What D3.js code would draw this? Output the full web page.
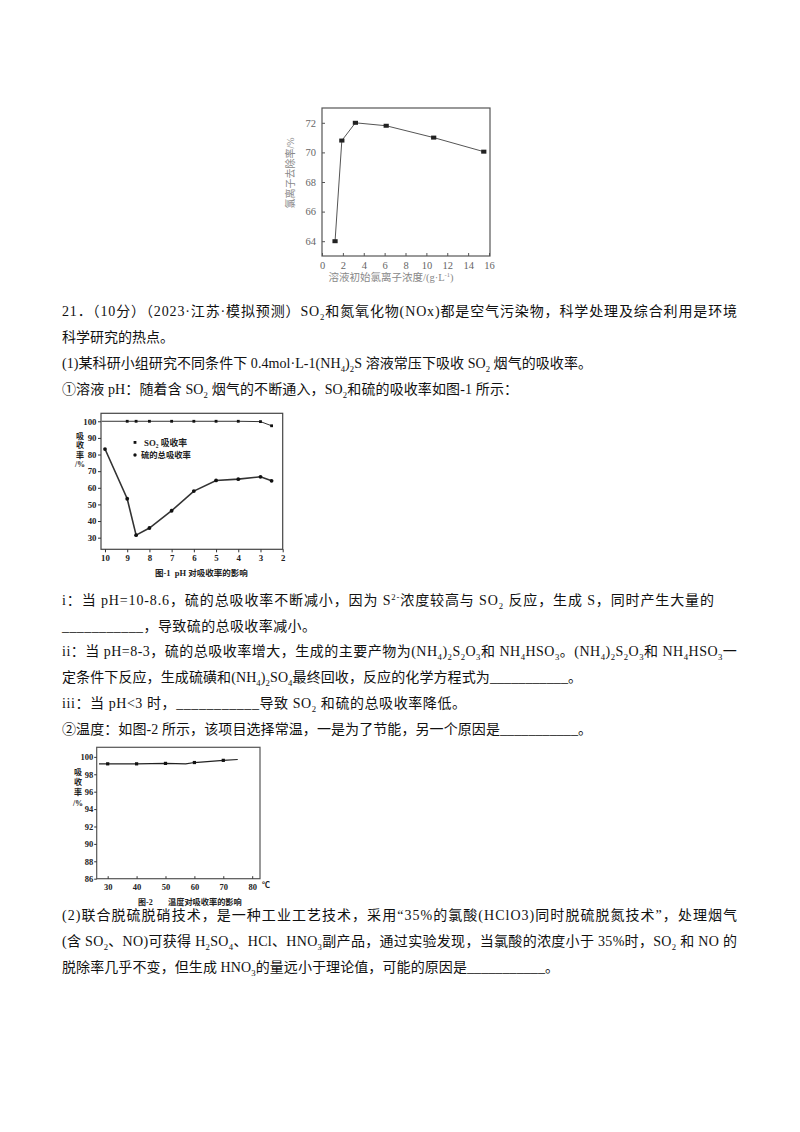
<!DOCTYPE html>
<html><head><meta charset="utf-8">
<script src="https://cdn.jsdelivr.net/npm/d3@7"></script>
<style>body{margin:0;background:#fff} svg{display:block}</style>
</head><body><svg id="page" width="800" height="1132"></svg>
<script>
// ---------- DATA ----------
// Chart A: chloride removal vs initial chloride concentration
const clConc = [1.25, 1.9, 3.2, 6.15, 10.7, 15.5];
const clRemoval = [64.0, 70.8, 72.0, 71.8, 71.0, 70.05];
const clXTicks = [0, 2, 4, 6, 8, 10, 12, 14, 16];
const clYTicks = [64, 66, 68, 70, 72];

// Chart B (图-1): absorption vs pH
const so2Ph = [10.15, 9, 8.6, 8, 7, 6, 5, 4, 3, 2.5];
const so2Rate = [100, 100, 100, 100, 100, 100, 100, 100, 99.8, 97.3];
const sulfurPh = [10, 9, 8.6, 8, 7, 6, 5, 4, 3, 2.5];
const sulfurRate = [83.3, 53.4, 31.5, 35.8, 46.2, 58.0, 64.4, 65.2, 66.6, 64.2];
const phTicks = [10, 9, 8, 7, 6, 5, 4, 3, 2];
const rateTicks = [30, 40, 50, 60, 70, 80, 90, 100];

// Chart C (图-2): absorption vs temperature
const tempLine = [27, 30, 40, 50, 57, 60, 70, 75];
const tempLineRate = [99.2, 99.2, 99.2, 99.25, 99.2, 99.35, 99.6, 99.7];
const tempPts = [30, 40, 50, 60, 70];
const tempPtsRate = [99.2, 99.2, 99.25, 99.35, 99.6];
const tempXTicks = [30, 40, 50, 60, 70, 80];
const tempYTicks = [86, 88, 90, 92, 94, 96, 98, 100];

// Body text lines (y = line centre, e = right end when stretched)
const bodyLines = [
  {y:311, e:737, t:"21．（10分）（2023·江苏·模拟预测）SO{_2}和氮氧化物(NOx)都是空气污染物，科学处理及综合利用是环境"},
  {y:337, t:"科学研究的热点。"},
  {y:363, e:592, t:"(1)某科研小组研究不同条件下 0.4mol·L-1(NH{_4}){_2}S 溶液常压下吸收 SO{_2} 烟气的吸收率。"},
  {y:389, e:518, t:"①溶液 pH：随着含 SO{_2} 烟气的不断通入，SO{_2}和硫的吸收率如图-1 所示："},
  {y:600, e:714, t:"i：当 pH=10-8.6，硫的总吸收率不断减小，因为 S{^2-}浓度较高与 SO{_2} 反应，生成 S，同时产生大量的"},
  {y:626, e:316, t:"___________，导致硫的总吸收率减小。"},
  {y:651, e:737, t:"ii：当 pH=8-3，硫的总吸收率增大，生成的主要产物为(NH{_4}){_2}S{_2}O{_3}和 NH{_4}HSO{_3}。(NH{_4}){_2}S{_2}O{_3}和 NH{_4}HSO{_3}一"},
  {y:677, e:582, t:"定条件下反应，生成硫磺和(NH{_4}){_2}SO{_4}最终回收，反应的化学方程式为___________。"},
  {y:703, e:466, t:"iii：当 pH<3 时，___________导致 SO{_2} 和硫的总吸收率降低。"},
  {y:729, e:592, t:"②温度：如图-2 所示，该项目选择常温，一是为了节能，另一个原因是___________。"},
  {y:915, e:737, t:"(2)联合脱硫脱硝技术，是一种工业工艺技术，采用“35%的氯酸(HClO3)同时脱硫脱氮技术”，处理烟气"},
  {y:941, e:737, t:"(含 SO{_2}、NO)可获得 H{_2}SO{_4}、HCl、HNO{_3}副产品，通过实验发现，当氯酸的浓度小于 35%时，SO{_2} 和 NO 的"},
  {y:967, e:559, t:"脱除率几乎不变，但生成 HNO{_3}的量远小于理论值，可能的原因是___________。"}
];

// ---------- HELPERS ----------
const svg = d3.select("#page");
const SERIF = "'Liberation Serif','Noto Sans CJK SC',serif";

function rich(sel, str, size) {
  const parts = str.split(/(\{[_^][^}]*\})/).filter(s => s.length);
  let pending = 0;
  parts.forEach(p => {
    const m = p.match(/^\{([_^])([^}]*)\}$/);
    if (m) {
      const d = m[1] === "_" ? size * 0.28 : -size * 0.38;
      sel.append("tspan").attr("dy", pending + d).attr("font-size", size * 0.62).text(m[2]);
      pending = -d;
    } else {
      const ts = sel.append("tspan").attr("font-size", size).text(p);
      if (pending) ts.attr("dy", pending);
      pending = 0;
    }
  });
  return sel;
}

// ---------- BODY TEXT ----------
const LEFT = 62;
bodyLines.forEach(L => {
  const t = svg.append("text").attr("x", LEFT).attr("y", L.y + 5)
    .attr("font-family", SERIF).attr("font-size", 14).attr("fill", "#111");
  rich(t, L.t, 14);
  if (L.e) {
    const node = t.node();
    const w = node.getComputedTextLength();
    const n = node.getNumberOfChars();
    const ls = (L.e - LEFT - w) / (n - 1);
    t.attr("letter-spacing", ls);
  }
});

// ---------- CHART A ----------
(function(){
  const x = d3.scaleLinear().domain([0, 16]).range([322, 489]);
  const y = d3.scaleLinear().domain([63, 73]).range([256, 108]);
  const g = svg.append("g");
  const col = "#555";
  g.append("rect").attr("x", 322).attr("y", 108).attr("width", 168).attr("height", 148)
    .attr("fill", "none").attr("stroke", col).attr("stroke-width", 1.2);
  const xa = g.append("g").attr("transform", "translate(0,256)")
    .call(d3.axisBottom(x).tickValues(clXTicks).tickSizeInner(-3).tickSizeOuter(0).tickPadding(6));
  const ya = g.append("g").attr("transform", "translate(322,0)")
    .call(d3.axisLeft(y).tickValues(clYTicks).tickSizeInner(-3).tickSizeOuter(0).tickPadding(6));
  [xa, ya].forEach(a => {
    a.select(".domain").remove();
    a.selectAll("line").attr("stroke", col);
    a.selectAll("text").attr("font-family", SERIF).attr("font-size", 10.5).attr("fill", "#666");
  });
  const line = d3.line().x((d,i) => x(clConc[i])).y(d => y(d));
  g.append("path").datum(clRemoval).attr("d", line).attr("fill", "none")
    .attr("stroke", "#555").attr("stroke-width", 1);
  g.selectAll("rect.m").data(clRemoval).enter().append("rect").attr("class", "m")
    .attr("x", (d,i) => x(clConc[i]) - 2.6).attr("y", d => y(d) - 2)
    .attr("width", 5.2).attr("height", 4).attr("fill", "#222");
  g.append("text").attr("transform", "translate(294,173) rotate(-90)")
    .attr("text-anchor", "middle").attr("font-family", SERIF).attr("font-size", 10)
    .attr("fill", "#888").text("氯离子去除率/%");
  const xl = g.append("text").attr("x", 391).attr("y", 281).attr("text-anchor", "middle")
    .attr("font-family", SERIF).attr("fill", "#888");
  rich(xl, "溶液初始氯离子浓度/(g·L{^-1})", 10.5);
})();

// ---------- CHART B (图-1) ----------
(function(){
  const x = d3.scaleLinear().domain([10.18, 2]).range([101, 282.7]);
  const y = d3.scaleLinear().domain([23, 104.8]).range([549.3, 413.3]);
  const g = svg.append("g");
  const col = "#333";
  g.append("rect").attr("x", 101).attr("y", 413.3).attr("width", 181.7).attr("height", 136)
    .attr("fill", "none").attr("stroke", "#444").attr("stroke-width", 1.2);
  const xa = g.append("g").attr("transform", "translate(0,549.3)")
    .call(d3.axisBottom(x).tickValues(phTicks).tickSize(3).tickSizeOuter(0).tickPadding(2));
  const ya = g.append("g").attr("transform", "translate(101,0)")
    .call(d3.axisLeft(y).tickValues(rateTicks).tickSize(3).tickSizeOuter(0).tickPadding(1.5));
  [xa, ya].forEach(a => {
    a.select(".domain").remove();
    a.selectAll("line").attr("stroke", col).attr("stroke-width", 1);
    a.selectAll("text").attr("font-family", SERIF).attr("font-weight", "bold")
      .attr("font-size", 8.8).attr("fill", "#222");
  });
  const so2Line = d3.line().x((d,i) => x(so2Ph[i])).y(d => y(d));
  g.append("path").datum(so2Rate).attr("d", so2Line).attr("fill", "none")
    .attr("stroke", "#333").attr("stroke-width", 1);
  const sLine = d3.line().x((d,i) => x(sulfurPh[i])).y(d => y(d));
  g.append("path").datum(sulfurRate).attr("d", sLine).attr("fill", "none")
    .attr("stroke", "#333").attr("stroke-width", 1.6);
  g.selectAll("rect.so2").data(so2Rate.slice(1)).enter().append("rect").attr("class", "so2")
    .attr("x", (d,i) => x(so2Ph[i+1]) - 1.4).attr("y", d => y(d) - 1.4)
    .attr("width", 2.8).attr("height", 2.8).attr("fill", "#111");
  g.selectAll("circle.s").data(sulfurRate).enter().append("circle").attr("class", "s")
    .attr("cx", (d,i) => x(sulfurPh[i])).attr("cy", d => y(d)).attr("r", 1.9).attr("fill", "#111");
  // legend
  g.append("rect").attr("x", 133.6).attr("y", 441).attr("width", 2.8).attr("height", 2.8).attr("fill", "#111");
  const l1 = g.append("text").attr("x", 144).attr("y", 445.5).attr("font-family", SERIF)
    .attr("font-weight", "bold").attr("fill", "#222");
  rich(l1, "SO{_2} 吸收率", 8.8);
  g.append("circle").attr("cx", 135).attr("cy", 455).attr("r", 1.7).attr("fill", "#111");
  g.append("text").attr("x", 141).attr("y", 458).attr("font-family", SERIF)
    .attr("font-weight", "bold").attr("font-size", 8.3).attr("fill", "#222").text("硫的总吸收率");
  // y label stacked
  const ylab = ["吸", "收", "率", "/%"], ylabY = [435.5, 445, 454.5, 463.5];
  ylab.forEach((c, i) => g.append("text").attr("x", 80).attr("y", ylabY[i] + 3)
    .attr("text-anchor", "middle").attr("font-family", SERIF).attr("font-weight", "bold")
    .attr("font-size", 8).attr("fill", "#222").text(c));
  g.append("text").attr("x", 155).attr("y", 575.5).attr("font-family", SERIF)
    .attr("font-weight", "bold").attr("font-size", 8.5).attr("fill", "#222")
    .attr("xml:space", "preserve").text("图-1  pH 对吸收率的影响");
})();

// ---------- CHART C (图-2) ----------
(function(){
  const x = d3.scaleLinear().domain([26.2, 82.7]).range([96.7, 260]);
  const y = d3.scaleLinear().domain([86, 101.1]).range([878.7, 747.3]);
  const g = svg.append("g");
  const col = "#333";
  g.append("rect").attr("x", 96.7).attr("y", 747.3).attr("width", 163.3).attr("height", 131.4)
    .attr("fill", "none").attr("stroke", "#555").attr("stroke-width", 1.2);
  const xa = g.append("g").attr("transform", "translate(0,878.7)")
    .call(d3.axisBottom(x).tickValues(tempXTicks).tickSizeInner(-2.5).tickSizeOuter(0).tickPadding(5));
  const ya = g.append("g").attr("transform", "translate(96.7,0)")
    .call(d3.axisLeft(y).tickValues(tempYTicks).tickSize(2.5).tickSizeOuter(0).tickPadding(1));
  [xa, ya].forEach(a => {
    a.select(".domain").remove();
    a.selectAll("line").attr("stroke", col).attr("stroke-width", 1);
    a.selectAll("text").attr("font-family", SERIF).attr("font-weight", "bold")
      .attr("font-size", 8.5).attr("fill", "#222");
  });
  g.append("text").attr("x", 266).attr("y", 888).attr("text-anchor", "middle")
    .attr("font-family", SERIF).attr("font-weight", "bold").attr("font-size", 8)
    .attr("fill", "#222").text("℃");
  const tl = d3.line().x((d,i) => x(tempLine[i])).y(d => y(d));
  g.append("path").datum(tempLineRate).attr("d", tl).attr("fill", "none")
    .attr("stroke", "#222").attr("stroke-width", 1.2);
  g.selectAll("rect.t").data(tempPtsRate).enter().append("rect").attr("class", "t")
    .attr("x", (d,i) => x(tempPts[i]) - 1.6).attr("y", d => y(d) - 1.6)
    .attr("width", 3.2).attr("height", 3.2).attr("fill", "#111");
  const ylab = ["吸", "收", "率", "/%"], ylabY = [771.7, 781.5, 792, 803];
  ylab.forEach((c, i) => g.append("text").attr("x", 78).attr("y", ylabY[i] + 3)
    .attr("text-anchor", "middle").attr("font-family", SERIF).attr("font-weight", "bold")
    .attr("font-size", 8).attr("fill", "#222").text(c));
  g.append("text").attr("x", 138).attr("y", 905).attr("font-family", SERIF)
    .attr("font-weight", "bold").attr("font-size", 8).attr("fill", "#222").text("图-2");
  g.append("text").attr("x", 168).attr("y", 905).attr("font-family", SERIF)
    .attr("font-weight", "bold").attr("font-size", 8.2).attr("fill", "#222").text("温度对吸收率的影响");
})();
</script></body></html>
